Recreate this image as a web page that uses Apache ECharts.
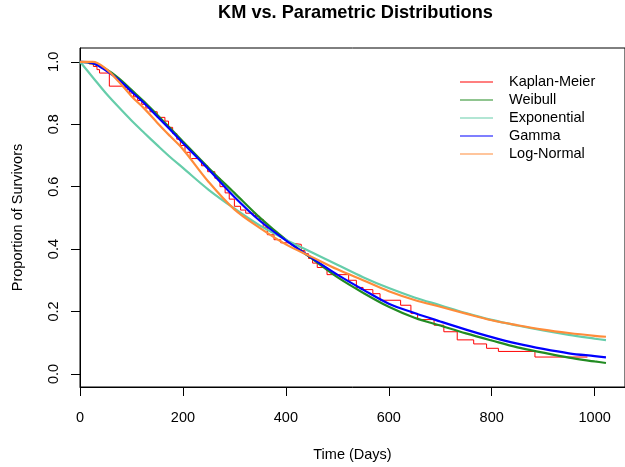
<!DOCTYPE html>
<html>
<head>
<meta charset="utf-8">
<script src="https://cdn.jsdelivr.net/npm/echarts@6/dist/echarts.min.js"></script>
<style>html,body{margin:0;padding:0;background:#fff;}#c{width:625px;height:467px;}</style>
</head>
<body>
<div id="c"></div>
<script>
// ---- data ----
const paramTimes = [0,25,50,75,100,125,150,175,200,250,300,350,400,450,500,550,600,650,700,750,800,850,900,950,1000,1022];
const expVals    = [1.0,0.95,0.90,0.855,0.812,0.772,0.733,0.695,0.66,0.59,0.53,0.475,0.43,0.39,0.35,0.31,0.275,0.245,0.22,0.195,0.173,0.155,0.139,0.125,0.113,0.108];
const weibullVals= [1.0,0.995,0.977,0.948,0.91,0.872,0.83,0.788,0.745,0.66,0.58,0.50,0.43,0.37,0.31,0.26,0.215,0.18,0.155,0.13,0.107,0.085,0.068,0.052,0.040,0.035];
const gammaVals  = [1.0,0.996,0.973,0.943,0.905,0.867,0.825,0.783,0.74,0.655,0.567,0.49,0.428,0.372,0.318,0.27,0.225,0.195,0.168,0.142,0.118,0.097,0.08,0.066,0.057,0.053];
const lnormVals  = [1.0,1.0,0.978,0.937,0.89,0.85,0.805,0.762,0.72,0.615,0.527,0.467,0.415,0.375,0.335,0.30,0.265,0.237,0.215,0.193,0.172,0.156,0.142,0.131,0.122,0.119];
const kmTimes = [0,18,26,33,38,57,88,96,104,112,120,128,136,150,165,172,180,188,195,204,214,230,236,248,262,272,282,290,300,312,322,341,349,356,364,377,390,405,430,437,444,452,461,480,522,537,550,569,583,623,643,656,688,707,733,765,790,813,884,986];
const kmSurv  = [1.0,0.993,0.985,0.975,0.964,0.922,0.912,0.9,0.888,0.876,0.864,0.852,0.84,0.822,0.81,0.79,0.77,0.752,0.732,0.71,0.69,0.684,0.667,0.648,0.627,0.6,0.58,0.56,0.537,0.525,0.515,0.505,0.495,0.47,0.446,0.43,0.42,0.415,0.395,0.385,0.37,0.355,0.341,0.318,0.3,0.277,0.27,0.257,0.236,0.22,0.194,0.174,0.156,0.135,0.109,0.096,0.082,0.072,0.054,0.054];
const xTicks = [0,200,400,600,800,1000];
const yTicks = [0,0.2,0.4,0.6,0.8,1.0];
const seriesNames = ['Kaplan-Meier','Weibull','Exponential','Gamma','Log-Normal'];
const seriesColors = ['#FF0000','#228B22','#66CDAA','#0000FF','#FF8C3A'];

const pairs = (xs, ys) => xs.map((x, i) => [x, ys[i]]);
const FONT = '"Liberation Sans", Arial, sans-serif';

const chart = echarts.init(document.getElementById('c'), null, {renderer: 'canvas'});
const paramSets = [weibullVals, expVals, gammaVals, lnormVals];

const series = [{
  name: seriesNames[0], type: 'line', step: 'end', showSymbol: false,
  data: pairs(kmTimes, kmSurv),
  lineStyle: {width: 1, color: seriesColors[0]}, itemStyle: {color: seriesColors[0]}
}].concat(paramSets.map((vals, k) => ({
  name: seriesNames[k + 1], type: 'line', smooth: 0.35, showSymbol: false,
  data: pairs(paramTimes, vals),
  lineStyle: {width: 2.2, color: seriesColors[k + 1]}, itemStyle: {color: seriesColors[k + 1]}
})));

chart.setOption({
  animation: false,
  textStyle: {fontFamily: FONT},
  title: {
    text: 'KM vs. Parametric Distributions', left: 350.5, top: -1, textAlign: 'center',
    textStyle: {fontFamily: FONT, fontWeight: 'bold', fontSize: 18.2, color: '#000'}
  },
  grid: {left: 80, top: 48, right: -6, bottom: 76, show: true, borderColor: '#000', borderWidth: 1, containLabel: false},
  legend: {
    orient: 'vertical', left: 460, top: 73, itemGap: 0, itemWidth: 33, itemHeight: 2, padding: 0,
    icon: 'rect', data: seriesNames,
    itemStyle: {opacity: 0.5},
    textStyle: {fontFamily: FONT, fontSize: 14.5, color: '#000', lineHeight: 18, padding: [0, 0, 0, 11]}
  },
  xAxis: {
    type: 'value', min: 0, max: 1059,
    name: 'Time (Days)', nameLocation: 'middle', nameGap: 60,
    nameTextStyle: {fontFamily: FONT, fontSize: 14.5, color: '#000'},
    axisLine: {show: true, onZero: false, lineStyle: {color: '#000', width: 1}},
    axisTick: {show: true, length: 9, lineStyle: {color: '#000'}, customValues: xTicks},
    axisLabel: {margin: 23, fontSize: 14.5, color: '#000', fontFamily: FONT, customValues: xTicks,
      formatter: v => String(Math.round(v))},
    splitLine: {show: false}
  },
  yAxis: {
    type: 'value', min: -0.042, max: 1.0443,
    name: 'Proportion of Survivors', nameLocation: 'middle', nameGap: 55, nameRotate: 90,
    nameTextStyle: {fontFamily: FONT, fontSize: 14.5, color: '#000'},
    axisLine: {show: true, onZero: false, lineStyle: {color: '#000', width: 1}},
    axisTick: {show: true, length: 9, lineStyle: {color: '#000'}, customValues: yTicks},
    axisLabel: {margin: 19, rotate: 90, fontSize: 14.5, color: '#000', fontFamily: FONT, customValues: yTicks,
      formatter: v => Number(v).toFixed(1)},
    splitLine: {show: false}
  },
  series: series
});
</script>
</body>
</html>
